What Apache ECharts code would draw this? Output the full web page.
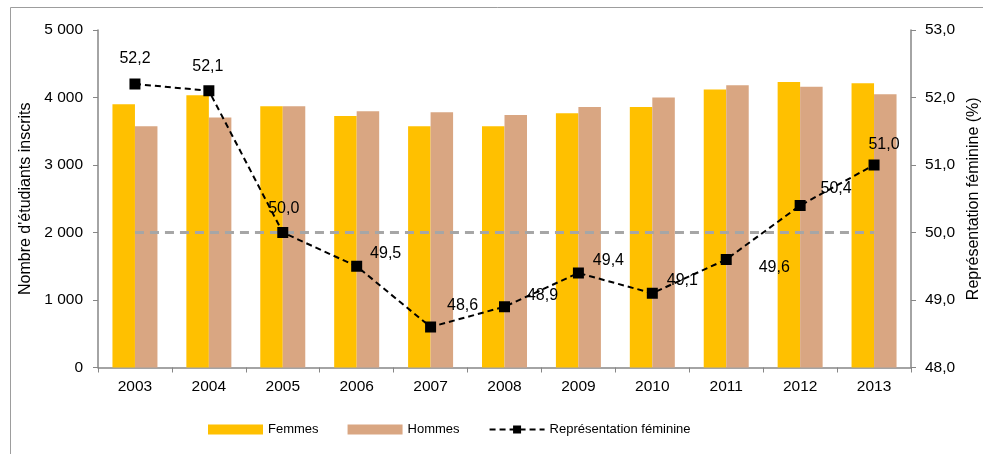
<!DOCTYPE html>
<html><head><meta charset="utf-8">
<script src="https://cdn.jsdelivr.net/npm/echarts@6/dist/echarts.min.js"></script>
<style>html,body{margin:0;padding:0;background:#fff}#c{width:983px;height:454px}</style>
</head><body><div id="c"></div>
<script>
const years = ['2003','2004','2005','2006','2007','2008','2009','2010','2011','2012','2013'];
const femmes = [3900, 4035, 3870, 3725, 3575, 3575, 3765, 3860, 4120, 4230, 4210];
const hommes = [3575, 3705, 3870, 3795, 3780, 3740, 3860, 4000, 4180, 4160, 4050];
const repFem = [52.2, 52.1, 50.0, 49.5, 48.6, 48.9, 49.4, 49.1, 49.6, 50.4, 51.0];
const leftTicks = [0, 1000, 2000, 3000, 4000, 5000];
const rightTicks = [48, 49, 50, 51, 52, 53];
const refLine = 50;

const labelOffsets = [[0,-25],[-1,-24],[1,-24],[29,-13],[32,-21],[38,-11],[30,-12],[30,-13],[48,8],[36,-17],[10,-20]];
const font = 'Liberation Sans, Arial, sans-serif';
const chart = echarts.init(document.getElementById('c'));
chart.setOption({
  animation: false,
  textStyle: {fontFamily: font},
  graphic: [{type:'rect', shape:{x:10.5, y:7.5, width:1000, height:500}, style:{fill:'none', stroke:'#9d9d9d', lineWidth:1}, silent:true}],
  grid: {left: 98, right: 72, top: 30, bottom: 86.5, containLabel: false, outerBoundsMode: 'none'},
  legend: {
    left: 203, top: 418, itemWidth: 55, itemHeight: 10, itemGap: 29, itemTextGap: 5,
    textStyle: {fontSize: 13, color: '#000', fontFamily: font},
    data: [{name:'Femmes', icon:'rect'}, {name:'Hommes', icon:'rect'}, {name:'Représentation féminine'}]
  },
  xAxis: {
    type: 'category', data: years,
    axisLine: {lineStyle: {color: '#868686', width: 1.5}},
    axisTick: {show: true, alignWithLabel: false, length: 5, lineStyle: {color: '#868686'}},
    axisLabel: {fontSize: 15.5, color: '#000', margin: 11, fontFamily: font}
  },
  yAxis: [{
    type: 'value', min: leftTicks[0], max: leftTicks[leftTicks.length-1], interval: 1000,
    name: "Nombre d'étudiants inscrits", nameLocation: 'middle', nameGap: 58, nameRotate: 90,
    nameTextStyle: {fontSize: 16, color: '#000', fontFamily: font},
    axisLine: {show: true, lineStyle: {color: '#868686', width: 1.5}},
    axisTick: {show: true, length: 5, lineStyle: {color: '#868686'}},
    splitLine: {show: false},
    axisLabel: {fontSize: 15.5, color: '#000', margin: 15, fontFamily: font,
      formatter: v => String(v).replace(/\B(?=(\d{3})+(?!\d))/g, ' ')}
  }, {
    type: 'value', min: rightTicks[0], max: rightTicks[rightTicks.length-1], interval: 1, position: 'right',
    name: 'Représentation féminine (%)', nameLocation: 'middle', nameGap: 52, nameRotate: 90,
    nameTextStyle: {fontSize: 16, color: '#000', fontFamily: font},
    axisLine: {show: true, lineStyle: {color: '#868686', width: 1.5}},
    axisTick: {show: true, length: 5, lineStyle: {color: '#868686'}},
    splitLine: {show: false},
    axisLabel: {fontSize: 15.5, color: '#000', margin: 14, fontFamily: font,
      formatter: v => v.toFixed(1).replace('.', ',')}
  }],
  series: [{
    name: 'Femmes', type: 'bar', data: femmes, barWidth: 22.5, barGap: '0%',
    itemStyle: {color: '#FFC000'}
  }, {
    name: 'Hommes', type: 'bar', data: hommes, barWidth: 22.5,
    itemStyle: {color: '#D9A682'}
  }, {
    name: 'Représentation féminine', type: 'line', yAxisIndex: 1,
    data: repFem.map((v, i) => ({value: v, label: {offset: labelOffsets[i]}})),
    symbol: 'rect', symbolSize: 11,
    itemStyle: {color: '#000'},
    lineStyle: {color: '#000', width: 2, type: [6, 4]},
    label: {show: true, position: 'inside', align: 'center', verticalAlign: 'middle', fontSize: 16, color: '#000', fontFamily: font,
      formatter: p => p.value.toFixed(1).replace('.', ',')},
    markLine: {
      silent: true, symbol: ['none','none'], label: {show: false},
      lineStyle: {color: '#A6A6A6', width: 3, type: [9, 6]},
      data: [[{xAxis: years[0], yAxis: refLine}, {xAxis: years[years.length-1], yAxis: refLine}]]
    },
    z: 5
  }]
});
</script></body></html>
